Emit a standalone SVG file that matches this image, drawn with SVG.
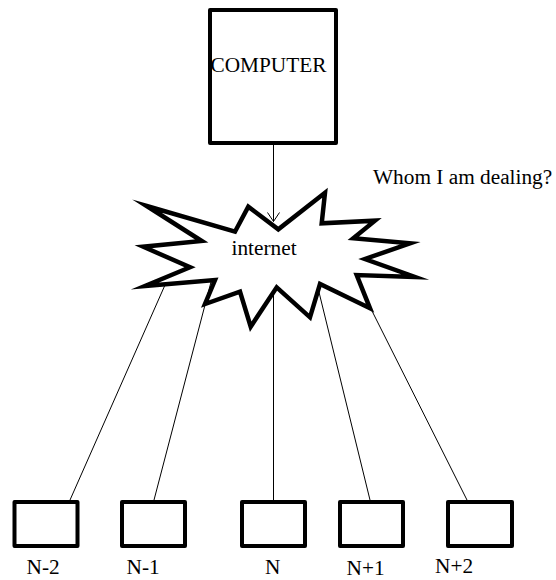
<svg xmlns="http://www.w3.org/2000/svg" width="556" height="580" viewBox="0 0 556 580">
<style>
.box{fill:#fff;stroke:#000;stroke-width:4;stroke-linejoin:round}
.burst{fill:#fff;stroke:#000;stroke-width:4.5;stroke-linejoin:miter;stroke-miterlimit:10}
.conn{stroke:#000;stroke-width:1;fill:none}
.t{font-family:"Liberation Serif","Times New Roman",serif;font-size:21.3px;fill:#000}
</style>
<defs>
<marker id="arr" markerUnits="userSpaceOnUse" viewBox="0 0 10 13" refX="9.5" refY="6.5" markerWidth="10" markerHeight="13" orient="auto">
<path d="M0.5,0.5 L9.5,6.5 L0.5,12.5" fill="none" stroke="#000" stroke-width="1"/>
</marker>
</defs>
<rect width="556" height="580" fill="#fff"/>
<g id="connectors">
<line class="conn" x1="273.5" y1="145" x2="273.5" y2="221.5" marker-end="url(#arr)"/>
<line class="conn" x1="165" y1="285" x2="70" y2="500"/>
<line class="conn" x1="211" y1="282" x2="154" y2="500"/>
<line class="conn" x1="273.5" y1="287" x2="273.5" y2="500"/>
<line class="conn" x1="317" y1="284" x2="370" y2="500"/>
<line class="conn" x1="368" y1="303" x2="467" y2="500"/>
</g>
<g id="computer">
<rect class="box" x="210" y="10" width="126" height="133"/>
<text class="t" x="210.5" y="71.5">COMPUTER</text>
</g>
<g id="internet">
<polygon class="burst" points="146.7,206 235,231.7 248.3,206.7 278.3,229.3 325,192.7 321.7,223.3 375,220.7 353.3,238.3 410,243.3 365,259 415,277 356.7,275 370,308.3 320,284 310,317.3 276.7,287.3 250.7,326.7 240,291.7 205,304 215,280 145,286 190,267.3 143.3,246.7 201.7,241"/>
<text class="t" x="231.5" y="255">internet</text>
</g>
<g id="question">
<text class="t" x="373" y="184">Whom I am dealing?</text>
</g>
<g id="node-n-2">
<rect class="box" x="14.5" y="502" width="63" height="44"/>
<text class="t" x="26.5" y="574">N-2</text>
</g>
<g id="node-n-1">
<rect class="box" x="122" y="502" width="63" height="44"/>
<text class="t" x="126.5" y="574">N-1</text>
</g>
<g id="node-n">
<rect class="box" x="242" y="502" width="63" height="44"/>
<text class="t" x="265" y="573.5">N</text>
</g>
<g id="node-n+1">
<rect class="box" x="340" y="502" width="63" height="44"/>
<text class="t" x="346.5" y="575">N+1</text>
</g>
<g id="node-n+2">
<rect class="box" x="448" y="502" width="64" height="44"/>
<text class="t" x="435" y="573">N+2</text>
</g>
</svg>
